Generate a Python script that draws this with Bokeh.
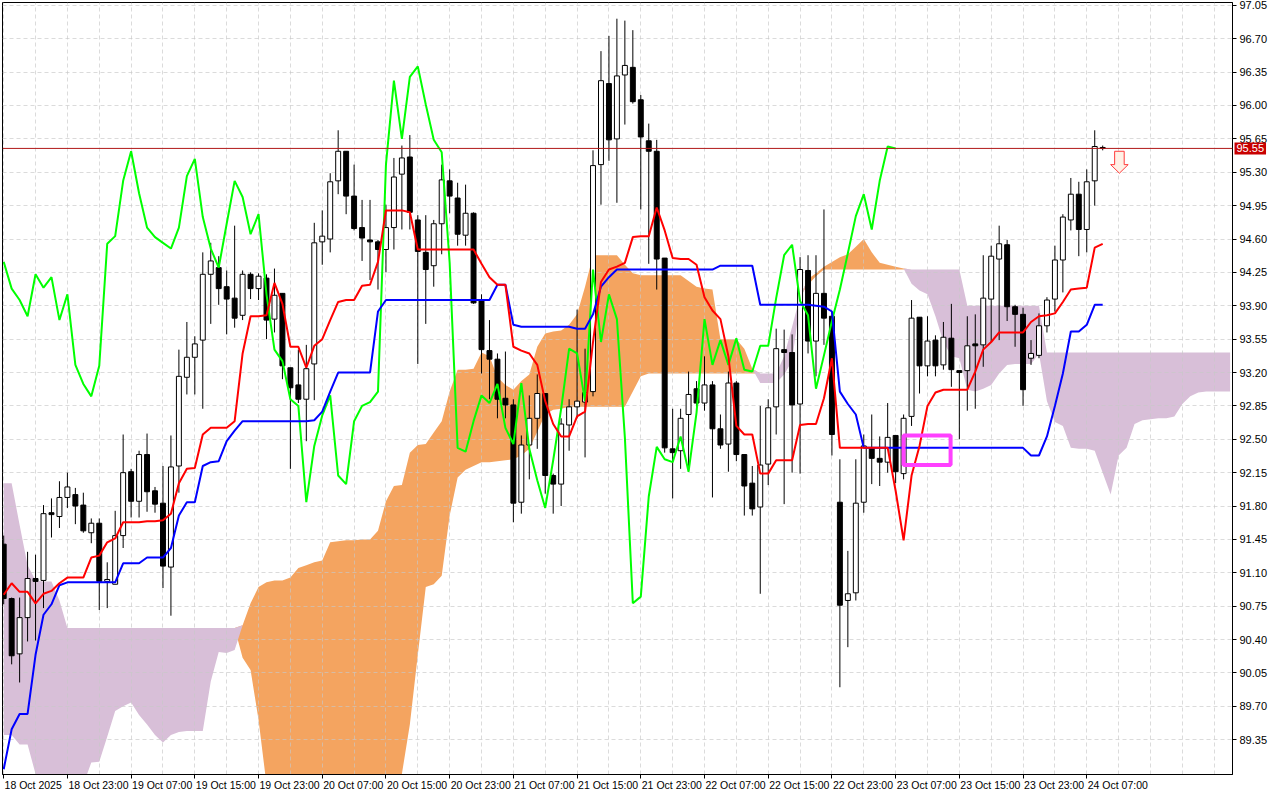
import numpy as np
from bokeh.plotting import figure
from bokeh.models import Range1d, FixedTicker, PrintfTickFormatter, Span, Label, LinearAxis
from bokeh.embed import file_html
from bokeh.resources import INLINE

# ---------------- data (hourly bars, index 0 = 18 Oct 15:00) ----------------
opens = [
    91.40, 90.83, 90.25, 90.63, 91.04, 91.02, 91.73, 91.69, 91.89, 91.92,
    91.81, 91.52, 91.62, 91.01, 90.98, 91.49, 92.16, 91.85, 92.34, 91.96,
    91.83, 91.16, 92.22, 93.15, 93.36, 93.54, 94.23, 94.30, 94.10, 93.98,
    93.80, 94.23, 94.08, 94.19, 93.76, 94.03, 93.25, 93.07, 92.92, 93.29,
    94.57, 94.60, 95.21, 95.52, 95.05, 94.72, 94.59, 94.57, 94.49, 94.72,
    95.28, 95.46, 94.80, 94.46, 94.32, 94.76, 95.21, 95.03, 94.64, 94.87,
    93.96, 93.43, 93.34, 92.93, 92.86, 91.84, 92.44, 92.72, 92.98, 92.12,
    92.03, 92.65, 92.84, 92.89, 93.00, 95.38, 96.23, 95.65, 96.32, 96.40,
    96.06, 95.63, 95.52, 94.40, 92.40, 92.38, 92.76, 93.03, 92.88, 93.07,
    92.61, 92.45, 93.09, 92.34, 92.04, 91.79, 92.24, 92.84, 93.44, 93.41,
    92.87, 94.27, 93.53, 94.03, 93.79, 91.84, 90.81, 90.89, 91.84, 92.41,
    92.30, 92.26, 92.54, 92.14, 92.74, 93.78, 93.27, 93.54, 93.28, 93.56,
    93.22, 93.22, 93.50, 93.49, 93.97, 94.39, 94.54, 93.89, 93.81, 93.35,
    93.38, 93.69, 93.97, 94.38, 94.80, 95.07, 94.70, 95.21, 95.56,
]
highs = [
    91.49, 90.84, 90.84, 91.32, 91.29, 91.81, 91.88, 92.06, 92.15, 91.99,
    91.94, 91.67, 91.67, 91.21, 91.75, 92.55, 92.19, 92.38, 92.56, 92.00,
    92.22, 92.54, 93.44, 93.73, 93.58, 94.46, 94.56, 94.42, 94.27, 94.74,
    94.27, 94.25, 94.24, 94.23, 94.29, 94.03, 93.25, 93.44, 93.49, 94.77,
    94.90, 95.29, 95.74, 95.52, 95.38, 95.01, 95.01, 94.59, 94.96, 95.45,
    95.58, 95.69, 94.85, 94.85, 94.80, 95.38, 95.33, 95.19, 95.17, 94.88,
    94.02, 93.75, 93.40, 93.42, 92.92, 92.54, 92.96, 93.18, 92.98, 92.14,
    92.72, 92.92, 93.86, 93.45, 95.53, 96.57, 96.73, 96.91, 96.89, 96.79,
    96.11, 95.81, 95.64, 94.40, 92.82, 92.82, 93.21, 93.11, 93.37, 93.11,
    92.76, 93.21, 93.11, 92.34, 92.22, 92.85, 92.92, 93.66, 93.65, 93.60,
    94.41, 94.43, 94.43, 94.91, 93.84, 92.29, 91.33, 92.29, 92.55, 92.76,
    92.53, 92.88, 92.54, 92.76, 93.96, 93.78, 93.79, 93.59, 93.73, 93.92,
    93.22, 93.79, 93.81, 94.43, 94.53, 94.74, 94.59, 93.91, 93.88, 93.54,
    93.82, 93.99, 94.53, 94.86, 95.24, 95.20, 95.33, 95.74, 95.58,
]
lows = [
    90.77, 90.14, 89.95, 90.38, 90.39, 90.73, 91.47, 91.57, 91.78, 91.61,
    91.52, 91.41, 90.71, 90.73, 90.98, 91.36, 91.68, 91.68, 91.74, 91.73,
    90.94, 90.65, 91.94, 92.97, 92.97, 92.82, 93.71, 93.91, 93.60, 93.67,
    93.75, 93.97, 93.96, 93.55, 93.62, 93.13, 92.19, 92.88, 92.48, 92.91,
    94.33, 94.46, 95.07, 94.86, 94.69, 94.37, 94.17, 94.07, 94.25, 94.49,
    94.70, 94.70, 93.29, 93.71, 94.10, 94.44, 94.87, 94.53, 94.53, 93.92,
    93.19, 92.92, 92.72, 92.72, 91.63, 91.72, 92.08, 92.40, 91.93, 91.72,
    91.80, 92.38, 92.72, 92.31, 92.95, 94.96, 95.42, 94.98, 95.80, 96.02,
    94.91, 94.34, 94.07, 92.36, 91.88, 92.19, 92.16, 92.80, 92.80, 91.89,
    92.40, 92.16, 92.27, 91.70, 91.70, 90.88, 92.02, 92.55, 91.82, 92.15,
    92.14, 93.40, 93.16, 93.49, 92.33, 89.90, 90.32, 90.81, 91.73, 92.03,
    92.01, 92.15, 92.04, 92.08, 92.64, 92.98, 93.16, 93.16, 93.23, 93.05,
    92.50, 92.80, 92.82, 93.26, 93.52, 93.54, 93.74, 93.47, 92.85, 93.28,
    93.35, 93.62, 93.84, 94.04, 94.69, 94.42, 94.46, 94.95, 95.53,
]
closes = [
    90.83, 90.23, 90.63, 91.04, 91.01, 91.72, 91.71, 91.89, 92.00, 91.80,
    91.54, 91.62, 91.01, 91.03, 91.49, 92.15, 91.85, 92.34, 91.95, 91.82,
    91.17, 92.21, 93.16, 93.36, 93.50, 94.23, 94.37, 94.08, 93.97, 93.77,
    94.23, 94.08, 94.21, 93.75, 94.01, 93.27, 93.04, 92.92, 93.24, 94.56,
    94.63, 95.20, 95.52, 95.05, 94.71, 94.61, 94.57, 94.49, 94.72, 95.25,
    95.45, 94.88, 94.47, 94.28, 94.76, 95.22, 95.05, 94.65, 94.87, 93.93,
    93.44, 93.34, 92.92, 92.86, 91.83, 92.44, 92.72, 92.98, 92.12, 92.03,
    92.66, 92.84, 92.90, 92.99, 95.37, 96.26, 95.64, 96.31, 96.42, 96.04,
    95.67, 95.52, 94.39, 92.41, 92.36, 92.72, 92.97, 92.88, 93.07, 92.61,
    92.44, 93.09, 92.34, 92.01, 91.77, 92.23, 92.83, 93.45, 93.41, 92.86,
    94.28, 93.53, 94.03, 93.77, 92.55, 90.76, 90.88, 91.83, 92.43, 92.30,
    92.26, 92.52, 92.16, 92.72, 93.77, 93.27, 93.53, 93.27, 93.57, 93.23,
    93.20, 93.48, 93.48, 93.98, 94.42, 94.55, 93.89, 93.81, 93.02, 93.40,
    93.69, 93.96, 94.38, 94.83, 95.07, 94.70, 95.20, 95.57, 95.55,
]
tenkan = [
    90.87, 90.99, 90.90, 90.90, 90.78, 90.88, 90.91, 90.99, 91.05, 91.05,
    91.05, 91.26, 91.28, 91.42, 91.46, 91.63, 91.63, 91.63, 91.64, 91.64,
    91.65, 91.72, 92.04, 92.19, 92.20, 92.55, 92.62, 92.62, 92.62, 92.69,
    93.40, 93.79, 93.79, 93.80, 94.14, 93.92, 93.47, 93.47, 93.25, 93.48,
    93.55, 93.75, 93.94, 93.96, 93.96, 94.11, 94.12, 94.36, 94.90, 94.90,
    94.90, 94.88, 94.49, 94.49, 94.49, 94.49, 94.49, 94.49, 94.49, 94.49,
    94.34, 94.20, 94.12, 94.12, 93.47, 93.43, 93.40, 93.28, 92.90, 92.66,
    92.53, 92.53, 92.74, 92.79, 93.52, 94.15, 94.28, 94.31, 94.35, 94.62,
    94.63, 94.63, 94.93, 94.69, 94.40, 94.39, 94.39, 94.33, 93.99, 93.85,
    93.76, 93.37, 92.64, 92.55, 92.55, 92.14, 92.14, 92.28, 92.28, 92.28,
    92.65, 92.66, 92.66, 92.93, 93.35, 92.41, 92.41, 92.41, 92.41, 92.41,
    92.41, 92.41, 91.96, 91.44, 92.12, 92.43, 92.85, 92.99, 93.02, 93.02,
    93.02, 93.02, 93.21, 93.44, 93.52, 93.62, 93.62, 93.62, 93.62, 93.73,
    93.79, 93.80, 93.82, 93.94, 94.07, 94.08, 94.09, 94.51, 94.55,
]
kijun = [
    89.04, 89.46, 89.62, 89.62, 90.24, 90.66, 90.77, 90.97, 91.00, 91.00,
    91.00, 91.00, 91.00, 91.00, 91.00, 91.20, 91.20, 91.20, 91.26, 91.26,
    91.26, 91.36, 91.70, 91.84, 91.84, 92.22, 92.26, 92.27, 92.48, 92.59,
    92.69, 92.69, 92.69, 92.69, 92.69, 92.69, 92.69, 92.69, 92.69, 92.70,
    92.79, 93.00, 93.20, 93.20, 93.20, 93.20, 93.20, 93.84, 93.96, 93.96,
    93.96, 93.96, 93.96, 93.96, 93.96, 93.96, 93.96, 93.96, 93.96, 93.96,
    93.96, 93.96, 94.12, 94.12, 93.70, 93.68, 93.68, 93.68, 93.68, 93.68,
    93.68, 93.68, 93.66, 93.66, 93.81, 94.10, 94.20, 94.28, 94.28, 94.28,
    94.28, 94.28, 94.28, 94.28, 94.28, 94.28, 94.28, 94.28, 94.28, 94.28,
    94.32, 94.32, 94.32, 94.32, 94.32, 93.91, 93.91, 93.91, 93.91, 93.91,
    93.91, 93.91, 93.90, 93.89, 93.84, 93.00, 92.87, 92.76, 92.41, 92.41,
    92.41, 92.41, 92.41, 92.41, 92.41, 92.41, 92.41, 92.41, 92.41, 92.41,
    92.41, 92.41, 92.41, 92.41, 92.41, 92.41, 92.41, 92.41, 92.41, 92.33,
    92.33, 92.53, 92.85, 93.19, 93.63, 93.63, 93.70, 93.91, 93.91,
]
chikou = [
    94.36, 94.08, 93.96, 93.79, 94.23, 94.09, 94.20, 93.75, 94.02, 93.28,
    93.08, 92.95, 93.27, 94.55, 94.63, 95.21, 95.52, 95.08, 94.72, 94.62,
    94.56, 94.50, 94.72, 95.26, 95.44, 94.83, 94.50, 94.30, 94.76, 95.21,
    95.04, 94.65, 94.86, 94.02, 93.44, 93.32, 92.92, 92.85, 91.84, 92.43,
    92.75, 92.96, 92.12, 92.03, 92.69, 92.85, 92.89, 93.00, 95.38, 96.26,
    95.65, 96.30, 96.41, 96.01, 95.64, 95.51, 94.35, 92.41, 92.37, 92.69,
    92.96, 92.88, 93.08, 92.62, 92.45, 93.09, 92.40, 92.07, 91.78, 92.28,
    92.82, 93.45, 93.40, 92.90, 94.28, 93.52, 94.02, 93.76, 92.52, 90.78,
    90.85, 91.90, 92.42, 92.29, 92.26, 92.53, 92.16, 92.78, 93.76, 93.28,
    93.54, 93.28, 93.56, 93.23, 93.21, 93.48, 93.48, 93.98, 94.43, 94.54,
    93.95, 93.80, 93.03, 93.38, 93.74, 94.07, 94.45, 94.84, 95.07, 94.70,
    95.21, 95.57, 95.55,
]
span_a = [
    89.40, 89.40, 89.30, 89.30, 88.99, 88.88, 88.88, 88.88, 88.88, 88.88,
    88.88, 89.11, 89.12, 89.38, 89.65, 89.70, 89.74, 89.61, 89.51, 89.40,
    89.32, 89.40, 89.43, 89.44, 89.44, 89.44, 89.96, 90.27, 90.26, 90.29,
    90.55, 90.78, 90.95, 91.00, 91.02, 91.02, 91.05, 91.15, 91.18, 91.21,
    91.23, 91.42, 91.43, 91.44, 91.44, 91.45, 91.45, 91.54, 91.85, 92.01,
    92.02, 92.36, 92.44, 92.45, 92.57, 92.69, 93.00, 93.23, 93.23, 93.24,
    93.41, 93.37, 93.15, 93.07, 93.02, 93.11, 93.18, 93.47, 93.61, 93.63,
    93.64, 93.70, 93.81, 94.10, 94.43, 94.43, 94.43, 94.43, 94.33, 94.24,
    94.22, 94.22, 94.22, 94.22, 94.22, 94.22, 94.16, 94.10, 94.08, 94.07,
    93.55, 93.55, 93.55, 93.45, 93.24, 93.09, 93.09, 93.09, 93.18, 93.32,
    93.95, 94.18, 94.24, 94.31, 94.36, 94.41, 94.44, 94.52, 94.60, 94.46,
    94.35, 94.33, 94.31, 94.29, 94.13, 94.06, 94.02, 93.79, 93.52, 93.37,
    93.35, 93.02, 93.00, 93.03, 93.07, 93.19, 93.28, 93.29, 93.29, 93.29,
    93.40, 92.90, 92.68, 92.64, 92.41, 92.40, 92.40, 92.38, 92.15, 91.92,
    92.33, 92.41, 92.66, 92.70, 92.71, 92.72, 92.72, 92.74, 92.87, 92.95,
    92.99, 93.00, 93.00, 93.00, 93.00,
]
span_b = [
    92.04, 92.04, 91.60, 91.18, 91.02, 91.01, 91.01, 90.81, 90.52, 90.52,
    90.52, 90.52, 90.52, 90.52, 90.52, 90.52, 90.52, 90.52, 90.52, 90.52,
    90.52, 90.52, 90.52, 90.52, 90.52, 90.52, 90.52, 90.52, 90.52, 90.52,
    90.21, 90.08, 89.56, 88.88, 88.88, 88.88, 88.88, 88.88, 88.88, 88.88,
    88.88, 88.88, 88.88, 88.88, 88.88, 88.88, 88.88, 88.88, 88.88, 88.88,
    88.99, 89.51, 90.24, 90.95, 90.98, 91.07, 91.70, 92.10, 92.18, 92.22,
    92.26, 92.26, 92.27, 92.28, 92.29, 92.33, 92.40, 92.58, 92.76, 92.81,
    92.82, 92.84, 92.84, 92.84, 92.84, 92.84, 92.84, 92.84, 92.84, 93.00,
    93.16, 93.19, 93.19, 93.19, 93.19, 93.19, 93.19, 93.19, 93.19, 93.19,
    93.19, 93.19, 93.19, 93.19, 93.19, 93.19, 93.19, 93.19, 93.37, 93.68,
    94.00, 94.12, 94.21, 94.28, 94.28, 94.28, 94.28, 94.28, 94.28, 94.28,
    94.28, 94.28, 94.28, 94.28, 94.28, 94.28, 94.28, 94.28, 94.28, 94.28,
    94.28, 93.90, 93.90, 93.90, 93.90, 93.90, 93.90, 93.90, 93.90, 93.90,
    93.90, 93.41, 93.41, 93.41, 93.41, 93.41, 93.41, 93.41, 93.41, 93.41,
    93.41, 93.41, 93.41, 93.41, 93.41, 93.41, 93.41, 93.41, 93.41, 93.41,
    93.41, 93.41, 93.41, 93.41, 93.41,
]
x_tick_labels = [
    "18 Oct 2025", "18 Oct 23:00", "19 Oct 07:00", "19 Oct 15:00", "19 Oct 23:00",
    "20 Oct 07:00", "20 Oct 15:00", "20 Oct 23:00", "21 Oct 07:00", "21 Oct 15:00",
    "21 Oct 23:00", "22 Oct 07:00", "22 Oct 15:00", "22 Oct 23:00", "23 Oct 07:00",
    "23 Oct 15:00", "23 Oct 23:00", "24 Oct 07:00",
]
price_ticks = [89.35, 89.70, 90.05, 90.40, 90.75, 91.10, 91.45, 91.80, 92.15, 92.50,
               92.85, 93.20, 93.55, 93.90, 94.25, 94.60, 94.95, 95.30, 95.65, 96.00,
               96.35, 96.70, 97.05]
last_price = 95.55

# annotation marks (bar index / price)
box_left, box_right, box_bottom, box_top = 113.0, 118.9, 92.23, 92.54
arrow_x, arrow_top, arrow_neck, arrow_tip = 140.1, 95.52, 95.38, 95.29

# ---------------- figure ----------------
FONT = "Liberation Sans"
FSIZE = "11px"
X0, X1 = -0.15, 154.3
p = figure(frame_width=1230, frame_height=772,
           x_range=Range1d(X0, X1), y_range=Range1d(88.985, 97.08),
           y_axis_location="right", output_backend="svg", toolbar_location=None,
           min_border_left=2, min_border_top=2, min_border_right=0, min_border_bottom=0,
           background_fill_color="white", border_fill_color="white")
p.outline_line_color = "black"
p.outline_line_width = 1

p.xgrid.ticker = FixedTicker(ticks=list(range(0, 156, 4)))
p.ygrid.ticker = FixedTicker(ticks=price_ticks)
for g in (p.xgrid, p.ygrid):
    g.grid_line_color = "#C8C8C8"
    g.grid_line_alpha = 0.65
    g.grid_line_dash = "4 3"
    g.level = "underlay"

label_ticks = list(range(0, 8 * len(x_tick_labels), 8))

# axis 1 (next to the frame): tick marks only
xa = p.xaxis[0]
xa.ticker = FixedTicker(ticks=label_ticks)
xa.major_label_overrides = {t: "" for t in label_ticks}
xa.major_label_text_font_size = "0px"
xa.major_label_standoff = 0

# axis 2 (below): the date labels, starting at their tick like in MT4
p.extra_x_ranges = {"lbl": Range1d(X0 * 10, X1 * 10)}
lbl_pos = [t * 10 + (37 if i == 0 else 39) for i, t in enumerate(label_ticks)]
xl = LinearAxis(x_range_name="lbl")
xl.ticker = FixedTicker(ticks=lbl_pos)
xl.major_label_overrides = {pos: lab for pos, lab in zip(lbl_pos, x_tick_labels)}
xl.major_tick_out = 0
xl.major_tick_in = 0
xl.minor_tick_out = 0
xl.minor_tick_in = 0
xl.axis_line_color = None
xl.major_label_standoff = 0
xl.major_label_text_font = FONT
xl.major_label_text_font_size = "10.5px"
xl.major_label_text_color = "black"
p.add_layout(xl, "below")

ya = p.yaxis[0]
ya.ticker = FixedTicker(ticks=price_ticks)
ya.formatter = PrintfTickFormatter(format="%.2f")
ya.major_label_standoff = 3
ya.major_label_text_font = FONT
ya.major_label_text_font_size = FSIZE
ya.major_label_text_color = "black"
for ax in (xa, ya):
    ax.major_tick_in = 0
    ax.major_tick_out = 4
    ax.minor_tick_out = 0
    ax.minor_tick_in = 0
    ax.axis_line_color = "black"
    ax.major_tick_line_color = "black"

# ---------------- cloud ----------------
a = np.array(span_a)
b = np.array(span_b)
xc = np.arange(len(a))
top = np.maximum(a, b)
p.varea(x=xc, y1=b, y2=top, fill_color="#F4A460", level="image")
p.varea(x=xc, y1=a, y2=top, fill_color="#D8BFD8", level="image")

# ---------------- candles ----------------
o = np.array(opens); h = np.array(highs); l = np.array(lows); c = np.array(closes)
xs = np.arange(len(o))
up = c >= o
p.segment(x0=xs, y0=h, x1=xs, y1=l, line_color="black", line_width=1)
p.vbar(x=xs[up], width=0.62, top=c[up], bottom=o[up], fill_color="white",
       line_color="black", line_width=1)
p.vbar(x=xs[~up], width=0.62, top=o[~up], bottom=c[~up], fill_color="black",
       line_color="black", line_width=1)

# ---------------- ichimoku lines ----------------
p.line(np.arange(len(chikou)), chikou, line_color="#00FF00", line_width=2)
p.line(np.arange(len(kijun)), kijun, line_color="#0000FF", line_width=2)
p.line(np.arange(len(tenkan)), tenkan, line_color="#FF0000", line_width=2)

# ---------------- annotations ----------------
p.add_layout(Span(location=last_price, dimension="width", line_color="#B01818", line_width=1))
p.quad(left=[box_left], right=[box_right], top=[box_top], bottom=[box_bottom],
       fill_alpha=0, line_color="#FF40FF", line_width=4)
p.patch(x=[arrow_x - 0.6, arrow_x + 0.6, arrow_x + 0.6, arrow_x + 1.1, arrow_x,
           arrow_x - 1.1, arrow_x - 0.6],
        y=[arrow_top, arrow_top, arrow_neck, arrow_neck, arrow_tip, arrow_neck, arrow_neck],
        fill_color="#FFF1E6", line_color="#FF3B3B", line_width=1)
price_tag = Label(x=X1, y=last_price, text="95.55", x_offset=2,
                  text_baseline="middle", text_align="left", text_color="white",
                  text_font=FONT, text_font_size=FSIZE,
                  background_fill_color="#C80000", padding=2)
p.add_layout(price_tag, "right")

open("out.html", "w").write(file_html(p, INLINE))
